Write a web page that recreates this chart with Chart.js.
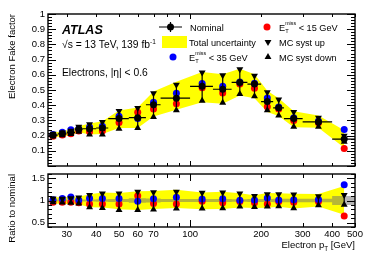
<!DOCTYPE html>
<html>
<head>
<meta charset="utf-8">
<script src="https://cdn.jsdelivr.net/npm/chart.js@4.4.1/dist/chart.umd.min.js"></script>
<style>
  html, body { margin: 0; padding: 0; background: #fff; }
  #wrap { position: relative; width: 374px; height: 253px; }
  canvas { position: absolute; left: 0; }
  #topPad { top: 0; }
  #ratioPad { top: 170px; }
</style>
</head>
<body>
<div id="wrap">
  <canvas id="topPad" width="374" height="170"></canvas>
  <canvas id="ratioPad" width="374" height="83"></canvas>
</div>
<script>
// bins in electron pT [GeV]
const binEdges = [25, 27.5, 30, 32.5, 35, 40, 45, 55, 65, 75, 100, 125, 150, 175, 200, 225, 250, 300, 400, 500];
const binCenters = [26.25, 28.75, 31.25, 33.75, 37.5, 42.5, 50, 60, 70, 87.5, 112.5, 137.5, 162.5, 187.5, 212.5, 237.5, 275, 350, 450];

// fake factors
const nominal    = [0.203, 0.212, 0.221, 0.242, 0.245, 0.250, 0.312, 0.318, 0.403, 0.446, 0.524, 0.505, 0.550, 0.539, 0.424, 0.383, 0.312, 0.290, 0.177];
const metBelow35 = [0.207, 0.222, 0.238, 0.245, 0.257, 0.262, 0.327, 0.312, 0.420, 0.478, 0.543, 0.525, 0.553, 0.545, 0.447, 0.388, 0.318, 0.296, 0.240];
const metBelow15 = [0.195, 0.204, 0.212, 0.230, 0.225, 0.230, 0.287, 0.353, 0.375, 0.410, 0.514, 0.480, 0.539, 0.512, 0.390, 0.375, 0.300, 0.284, 0.115];
const mcSystUp   = [0.212, 0.220, 0.232, 0.258, 0.275, 0.290, 0.362, 0.381, 0.478, 0.535, 0.615, 0.597, 0.636, 0.593, 0.485, 0.437, 0.355, 0.318, 0.199];
const mcSystDown = [0.195, 0.203, 0.210, 0.225, 0.208, 0.207, 0.245, 0.250, 0.322, 0.366, 0.430, 0.416, 0.474, 0.459, 0.366, 0.333, 0.258, 0.258, 0.160];
const totalUp    = [0.218, 0.228, 0.240, 0.262, 0.280, 0.295, 0.365, 0.385, 0.490, 0.554, 0.618, 0.604, 0.640, 0.604, 0.495, 0.446, 0.360, 0.333, 0.235];
const totalDown  = [0.188, 0.196, 0.202, 0.222, 0.208, 0.210, 0.250, 0.250, 0.325, 0.370, 0.420, 0.409, 0.463, 0.446, 0.355, 0.329, 0.255, 0.251, 0.120];
// relative statistical uncertainty (grey band in the ratio)
const statRel    = [0.02, 0.02, 0.02, 0.025, 0.025, 0.03, 0.035, 0.05, 0.045, 0.035, 0.035, 0.035, 0.03, 0.035, 0.035, 0.04, 0.04, 0.04, 0.10];

// axis ticks
const fakeTicks = [0.1, 0.2, 0.3, 0.4, 0.5, 0.6, 0.7, 0.8, 0.9, 1];
const ratioTicks = [0.5, 1, 1.5];
const ptTickLabels = [30, 40, 50, 60, 70, 100, 200, 300, 400, 500];
const ptTickMarks = [30, 40, 50, 60, 70, 80, 90, 100, 200, 300, 400, 500];

const FONT = '"Liberation Sans", Arial, Helvetica, sans-serif';
Chart.defaults.font.family = FONT;
Chart.defaults.color = '#000';

const YELLOW = '#ffff00';
const BLUE = '#0000ff';
const RED = '#ff0000';

function pts(ys) {
  return binCenters.map((x, i) => ({ x: x, y: ys[i] }));
}
function ratio(ys) {
  return ys.map((v, i) => v / nominal[i]);
}

function markerSet(label, ys, color, style, rotation, radius, order) {
  return {
    label: label,
    data: pts(ys),
    showLine: false,
    pointStyle: style,
    rotation: rotation,
    pointRadius: radius,
    pointBackgroundColor: color,
    pointBorderColor: color,
    pointBorderWidth: 0,
    order: order
  };
}

function bandSets(up, down, color, order) {
  return [
    { data: pts(up), pointRadius: 0, borderWidth: 0, fill: false, backgroundColor: color, order: order },
    { data: pts(down), pointRadius: 0, borderWidth: 0, fill: '-1', backgroundColor: color, order: order }
  ];
}

// rich text with simple sub/superscripts
function richText(ctx, x, y, parts, align) {
  const fontOf = p => (p.style || '') + ' ' + p.size + 'px ' + FONT;
  let w = 0, pend = 0;
  parts.forEach(p => {
    ctx.font = fontOf(p);
    const pw = ctx.measureText(p.t).width;
    if (p.keep) { pend = pw; } else { w += Math.max(pw, pend); pend = 0; }
  });
  let cx = align === 'right' ? x - w : x;
  pend = 0;
  ctx.textAlign = 'left';
  ctx.textBaseline = 'alphabetic';
  parts.forEach(p => {
    ctx.font = fontOf(p);
    ctx.fillText(p.t, cx, y + (p.dy || 0));
    const pw = ctx.measureText(p.t).width;
    if (p.keep) { pend = pw; } else { cx += Math.max(pw, pend); pend = 0; }
  });
}

function etMiss(size, rest) {
  return [
    { t: 'E', size: size },
    { t: 'miss', size: size * 0.58, dy: -6, keep: true },
    { t: 'T', size: size * 0.62, dy: 1.8 },
    { t: rest, size: size }
  ];
}

// ROOT-like frame with inward ticks on all four sides
function frameTicks(chart, cfg) {
  const { ctx, chartArea: a, scales } = chart;
  const xs = scales.x, ys = scales.y;
  ctx.save();
  ctx.strokeStyle = '#000';
  ctx.lineWidth = 1;
  ctx.beginPath();
  ptTickMarks.forEach(v => {
    const px = Math.round(xs.getPixelForValue(v)) + 0.5;
    const len = v === 100 ? cfg.xMajor : cfg.xMinor;
    ctx.moveTo(px, a.bottom); ctx.lineTo(px, a.bottom - len);
    ctx.moveTo(px, a.top); ctx.lineTo(px, a.top + len);
  });
  const n = Math.round((cfg.yMax - cfg.yMin) / cfg.yStep);
  for (let k = 0; k <= n; k++) {
    const v = cfg.yMin + k * cfg.yStep;
    const py = Math.round(ys.getPixelForValue(v)) + 0.5;
    const major = Math.abs(v / cfg.yMajorStep - Math.round(v / cfg.yMajorStep)) < 1e-6;
    const len = major ? 8 : 4;
    ctx.moveTo(a.left, py); ctx.lineTo(a.left + len, py);
    ctx.moveTo(a.right, py); ctx.lineTo(a.right - len, py);
  }
  ctx.stroke();
  ctx.lineWidth = 1.4;
  ctx.strokeRect(a.left, a.top, a.right - a.left, a.bottom - a.top);
  ctx.restore();
}

// error bars: horizontal bin width on nominal, vertical span between MC syst variations
function errorBars(chart, lows, highs, centerVals, withWidth) {
  const { ctx, scales } = chart;
  const xs = scales.x, ys = scales.y;
  ctx.save();
  ctx.strokeStyle = '#000';
  ctx.lineWidth = 1.2;
  ctx.beginPath();
  binCenters.forEach((c, i) => {
    const px = xs.getPixelForValue(c);
    ctx.moveTo(px, ys.getPixelForValue(lows[i]));
    ctx.lineTo(px, ys.getPixelForValue(highs[i]));
    if (withWidth) {
      const py = ys.getPixelForValue(centerVals[i]);
      ctx.moveTo(xs.getPixelForValue(binEdges[i]), py);
      ctx.lineTo(xs.getPixelForValue(binEdges[i + 1]), py);
    }
  });
  ctx.stroke();
  ctx.restore();
}

const topDecor = {
  id: 'topDecor',
  afterDatasetsDraw(chart) {
    errorBars(chart, mcSystDown, mcSystUp, nominal, true);
    frameTicks(chart, { yMin: 0, yMax: 1, yStep: 0.02, yMajorStep: 0.1, xMajor: 5, xMinor: 3 });
  },
  afterDraw(chart) {
    const ctx = chart.ctx;
    ctx.save();
    ctx.fillStyle = '#000';
    richText(ctx, 62, 34, [{ t: 'ATLAS', size: 12.5, style: 'bold italic' }]);
    richText(ctx, 62, 48, [
      { t: '\u221As = 13 TeV, 139 fb', size: 10.3 },
      { t: '-1', size: 6.5, dy: -4.5 }
    ]);
    richText(ctx, 62, 76, [{ t: 'Electrons, |\u03B7| < 0.6', size: 10.3 }]);

    // legend, left column
    ctx.strokeStyle = '#000';
    ctx.lineWidth = 1.2;
    ctx.beginPath();
    ctx.moveTo(159, 27); ctx.lineTo(182, 27);
    ctx.moveTo(170.5, 22); ctx.lineTo(170.5, 32);
    ctx.stroke();
    Chart.helpers.drawPoint(ctx, { pointStyle: 'circle', radius: 3.5, borderWidth: 0 }, 170.5, 27);
    ctx.fillStyle = YELLOW;
    ctx.fillRect(162, 36, 25, 12);
    ctx.fillStyle = BLUE;
    Chart.helpers.drawPoint(ctx, { pointStyle: 'circle', radius: 3.5, borderWidth: 0 }, 173, 57);
    ctx.fillStyle = '#000';
    richText(ctx, 190, 31, [{ t: 'Nominal', size: 9.2 }]);
    richText(ctx, 189, 46, [{ t: 'Total uncertainty', size: 9.2 }]);
    richText(ctx, 189, 61, etMiss(9.2, ' < 35 GeV'));

    // legend, right column
    ctx.fillStyle = RED;
    Chart.helpers.drawPoint(ctx, { pointStyle: 'circle', radius: 3.5, borderWidth: 0 }, 267, 27);
    ctx.fillStyle = '#000';
    ctx.strokeStyle = '#000';
    Chart.helpers.drawPoint(ctx, { pointStyle: 'triangle', radius: 4, rotation: 180, borderWidth: 0 }, 268, 42);
    Chart.helpers.drawPoint(ctx, { pointStyle: 'triangle', radius: 4, borderWidth: 0 }, 268, 57);
    richText(ctx, 279, 31, etMiss(9.2, ' < 15 GeV'));
    richText(ctx, 279, 46, [{ t: 'MC syst up', size: 9.2 }]);
    richText(ctx, 279, 61, [{ t: 'MC syst down', size: 9.2 }]);
    ctx.restore();
  }
};

const ratioDecor = {
  id: 'ratioDecor',
  afterDatasetsDraw(chart) {
    errorBars(chart, ratio(mcSystDown), ratio(mcSystUp), null, false);
    frameTicks(chart, { yMin: 0.4, yMax: 1.6, yStep: 0.1, yMajorStep: 0.5, xMajor: 7, xMinor: 4 });
  },
  afterDraw(chart) {
    const ctx = chart.ctx;
    ctx.save();
    ctx.fillStyle = '#000';
    richText(ctx, 355, 78, [
      { t: 'Electron p', size: 9.5 },
      { t: 'T', size: 6.3, dy: 2.5 },
      { t: ' [GeV]', size: 9.5 }
    ], 'right');
    ctx.restore();
  }
};

// keep the plot frames at fixed pixel positions
function fixY(s) { s.width = 48; s.paddingTop = 0; s.paddingBottom = 0; }
function fixX(s) { s.height = 26; s.paddingLeft = 0; s.paddingRight = 0; }

new Chart(document.getElementById('topPad'), {
  type: 'line',
  data: {
    datasets: [
      markerSet('Nominal', nominal, '#000', 'circle', 0, 3.5, 0),
      markerSet('MC syst up', mcSystUp, '#000', 'triangle', 180, 4, 1),
      markerSet('MC syst down', mcSystDown, '#000', 'triangle', 0, 4, 1),
      markerSet('MET < 35 GeV', metBelow35, BLUE, 'circle', 0, 3.5, 2),
      markerSet('MET < 15 GeV', metBelow15, RED, 'circle', 0, 3.5, 3),
      ...bandSets(totalUp, totalDown, YELLOW, 10)
    ]
  },
  options: {
    responsive: false,
    animation: false,
    events: [],
    layout: { padding: { left: 0, right: 19, top: 14, bottom: 2 } },
    plugins: { legend: { display: false }, tooltip: { enabled: false } },
    scales: {
      x: { type: 'logarithmic', min: 25, max: 500, display: false },
      y: {
        min: 0, max: 1,
        border: { display: false },
        grid: { display: false, drawTicks: false },
        afterFit: fixY,
        afterBuildTicks: s => { s.ticks = fakeTicks.map(v => ({ value: v })); },
        ticks: { padding: 3, font: { size: 9.5 }, color: '#000', callback: v => String(v) },
        title: { display: true, text: 'Electron Fake factor', align: 'end', color: '#000',
                 font: { size: 9.5 }, padding: { top: 7, bottom: 0 } }
      }
    }
  },
  plugins: [topDecor]
});

// grey statistical band as steps over the bin edges
const statUpSteps = binCenters.flatMap((c, i) => [{ x: binEdges[i], y: 1 + statRel[i] }, { x: binEdges[i + 1], y: 1 + statRel[i] }]);
const statDownSteps = binCenters.flatMap((c, i) => [{ x: binEdges[i], y: 1 - statRel[i] }, { x: binEdges[i + 1], y: 1 - statRel[i] }]);

new Chart(document.getElementById('ratioPad'), {
  type: 'line',
  data: {
    datasets: [
      markerSet('MC syst up', ratio(mcSystUp), '#000', 'triangle', 180, 4, 1),
      markerSet('MC syst down', ratio(mcSystDown), '#000', 'triangle', 0, 4, 1),
      markerSet('MET < 35 GeV', ratio(metBelow35), BLUE, 'circle', 0, 3.5, 2),
      markerSet('MET < 15 GeV', ratio(metBelow15), RED, 'circle', 0, 3.5, 3),
      { data: statUpSteps, pointRadius: 0, borderWidth: 0, fill: false, backgroundColor: 'rgba(110,110,110,0.5)', order: 5 },
      { data: statDownSteps, pointRadius: 0, borderWidth: 0, fill: '-1', backgroundColor: 'rgba(110,110,110,0.5)', order: 5 },
      ...bandSets(ratio(totalUp), ratio(totalDown), YELLOW, 10)
    ]
  },
  options: {
    responsive: false,
    animation: false,
    events: [],
    layout: { padding: { left: 0, right: 19, top: 4, bottom: 0 } },
    plugins: { legend: { display: false }, tooltip: { enabled: false } },
    scales: {
      x: {
        type: 'logarithmic', min: 25, max: 500,
        border: { display: false },
        grid: { display: false, drawTicks: false },
        afterFit: fixX,
        afterBuildTicks: s => { s.ticks = ptTickLabels.map(v => ({ value: v })); },
        ticks: { padding: 2, autoSkip: false, maxRotation: 0, font: { size: 9.5 }, color: '#000', callback: v => String(v) }
      },
      y: {
        min: 0.4, max: 1.6,
        border: { display: false },
        grid: { display: false, drawTicks: false },
        afterFit: fixY,
        afterBuildTicks: s => { s.ticks = ratioTicks.map(v => ({ value: v })); },
        ticks: { padding: 3, font: { size: 9.5 }, color: '#000', callback: v => String(v) },
        title: { display: true, text: 'Ratio to nominal', align: 'end', color: '#000',
                 font: { size: 9.5 }, padding: { top: 7, bottom: 0 } }
      }
    }
  },
  plugins: [ratioDecor]
});
</script>
</body>
</html>
